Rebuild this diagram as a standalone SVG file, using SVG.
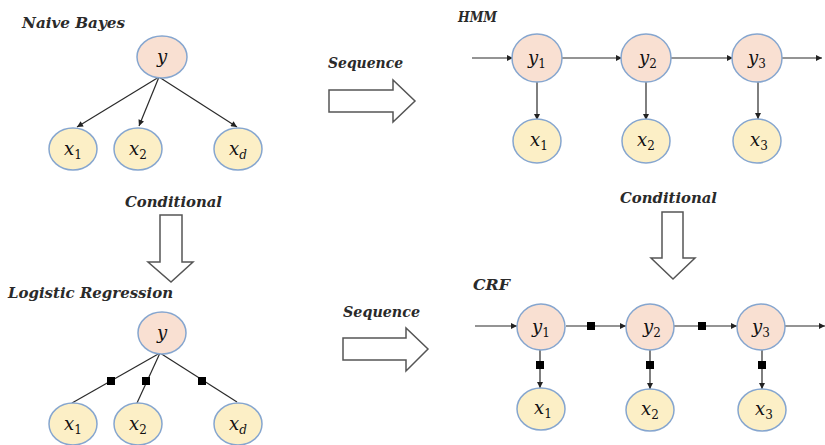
<svg xmlns="http://www.w3.org/2000/svg" width="825" height="445" viewBox="0 0 825 445">
  <style>
    .title { font-family: "DejaVu Serif", "Liberation Serif", serif; font-style: italic; font-weight: bold; font-size: 14.5px; fill: #2a2a2a; }
    .ynode { fill: #f9e0d2; stroke: #86a6cf; stroke-width: 1.5; }
    .xnode { fill: #fcefc6; stroke: #86a6cf; stroke-width: 1.5; }
    .var { font-family: "DejaVu Serif", "Liberation Serif", serif; font-style: italic; font-size: 18px; fill: #111; text-anchor: middle; }
    .sub { font-style: normal; font-size: 12px; }
    .subi { font-style: italic; font-size: 12px; }
    .edge { stroke: #2a2a2a; stroke-width: 1.2; fill: none; }
    .arr { marker-end: url(#head); }
    .factor { fill: #000; }
    .block { fill: #fff; stroke: #555; stroke-width: 1.5; stroke-linejoin: miter; }
  </style>
  <defs>
    <marker id="head" viewBox="0 0 10 10" refX="10" refY="5" markerWidth="7" markerHeight="6" markerUnits="userSpaceOnUse" orient="auto">
      <path d="M0,0 L10,5 L0,10 z" fill="#222"/>
    </marker>
  </defs>

  <!-- section titles -->
  <text class="title" x="22" y="28" textLength="103" lengthAdjust="spacingAndGlyphs">Naive Bayes</text>
  <text class="title" x="328" y="68" textLength="75" lengthAdjust="spacingAndGlyphs">Sequence</text>
  <text class="title" x="458" y="22" textLength="39" lengthAdjust="spacingAndGlyphs">HMM</text>
  <text class="title" x="125" y="207" textLength="97" lengthAdjust="spacingAndGlyphs">Conditional</text>
  <text class="title" x="8" y="298" textLength="165" lengthAdjust="spacingAndGlyphs">Logistic Regression</text>
  <text class="title" x="343" y="317" textLength="77" lengthAdjust="spacingAndGlyphs">Sequence</text>
  <text class="title" x="620" y="203" textLength="97" lengthAdjust="spacingAndGlyphs">Conditional</text>
  <text class="title" x="473" y="290" textLength="37" lengthAdjust="spacingAndGlyphs">CRF</text>

  <!-- block arrows between models -->
  <g id="block-arrows">
    <polygon class="block" points="329,90 393,90 393,80 415,101 393,122 393,112 329,112"/>
    <polygon class="block" points="343,338 406,338 406,328 428,349 406,371 406,360 343,360"/>
    <polygon class="block" points="160,215 182,215 182,262 193,262 171,282 148,262 160,262"/>
    <polygon class="block" points="662,212 683,212 683,258 695,258 673,279 651,258 662,258"/>
  </g>

  <!-- connectors -->
  <g id="connectors">
    <!-- Naive Bayes -->
    <line class="edge arr" x1="159" y1="77" x2="77" y2="127"/>
    <line class="edge arr" x1="159" y1="77" x2="139" y2="126"/>
    <line class="edge arr" x1="159" y1="77" x2="237" y2="127"/>
    <!-- HMM -->
    <line class="edge arr" x1="472" y1="58" x2="513" y2="58"/>
    <line class="edge arr" x1="562" y1="58" x2="622" y2="58"/>
    <line class="edge arr" x1="670" y1="58" x2="733" y2="58"/>
    <line class="edge arr" x1="782" y1="58" x2="822" y2="58"/>
    <line class="edge arr" x1="537" y1="82" x2="537" y2="120"/>
    <line class="edge arr" x1="646" y1="82" x2="646" y2="120"/>
    <line class="edge arr" x1="758" y1="82" x2="758" y2="119"/>
    <!-- Logistic Regression -->
    <line class="edge" x1="160" y1="353" x2="72" y2="403"/>
    <line class="edge" x1="160" y1="353" x2="137" y2="403"/>
    <line class="edge" x1="160" y1="353" x2="237" y2="402"/>
    <rect class="factor" x="107" y="377" width="8" height="8"/>
    <rect class="factor" x="142" y="377" width="8" height="8"/>
    <rect class="factor" x="198" y="377" width="8" height="8"/>
    <!-- CRF -->
    <line class="edge arr" x1="475" y1="326" x2="517" y2="326"/>
    <line class="edge arr" x1="566" y1="326" x2="626" y2="326"/>
    <line class="edge arr" x1="674" y1="326" x2="737" y2="326"/>
    <line class="edge arr" x1="785" y1="326" x2="825" y2="326"/>
    <line class="edge arr" x1="540" y1="350" x2="540" y2="388"/>
    <line class="edge arr" x1="650" y1="350" x2="650" y2="389"/>
    <line class="edge arr" x1="762" y1="350" x2="762" y2="389"/>
    <rect class="factor" x="587" y="322" width="8" height="8"/>
    <rect class="factor" x="698" y="322" width="8" height="8"/>
    <rect class="factor" x="536" y="361" width="8" height="8"/>
    <rect class="factor" x="646" y="361" width="8" height="8"/>
    <rect class="factor" x="758" y="361" width="8" height="8"/>
  </g>

  <!-- Naive Bayes nodes -->
  <g id="nb-y"><ellipse class="ynode" cx="162" cy="57" rx="25" ry="21"/><text class="var" x="162" y="63">y</text></g>
  <g id="nb-x1"><ellipse class="xnode" cx="73" cy="149" rx="24" ry="21"/><text class="var" x="73" y="155">x<tspan class="sub" dy="4">1</tspan></text></g>
  <g id="nb-x2"><ellipse class="xnode" cx="138" cy="149" rx="24" ry="21"/><text class="var" x="138" y="155">x<tspan class="sub" dy="4">2</tspan></text></g>
  <g id="nb-xd"><ellipse class="xnode" cx="238" cy="149" rx="24" ry="21"/><text class="var" x="238" y="155">x<tspan class="subi" dy="4">d</tspan></text></g>

  <!-- HMM nodes -->
  <g id="hmm-y1"><ellipse class="ynode" cx="537" cy="58" rx="25" ry="24"/><text class="var" x="537" y="64">y<tspan class="sub" dy="4">1</tspan></text></g>
  <g id="hmm-y2"><ellipse class="ynode" cx="646" cy="58" rx="25" ry="24"/><text class="var" x="648" y="64">y<tspan class="sub" dy="4">2</tspan></text></g>
  <g id="hmm-y3"><ellipse class="ynode" cx="757" cy="58" rx="25" ry="24"/><text class="var" x="757" y="64">y<tspan class="sub" dy="4">3</tspan></text></g>
  <g id="hmm-x1"><ellipse class="xnode" cx="537" cy="141" rx="24" ry="22"/><text class="var" x="539" y="146">x<tspan class="sub" dy="4">1</tspan></text></g>
  <g id="hmm-x2"><ellipse class="xnode" cx="646" cy="141" rx="24" ry="22"/><text class="var" x="646" y="146">x<tspan class="sub" dy="4">2</tspan></text></g>
  <g id="hmm-x3"><ellipse class="xnode" cx="757" cy="141" rx="24" ry="22"/><text class="var" x="759" y="146">x<tspan class="sub" dy="4">3</tspan></text></g>

  <!-- Logistic Regression nodes -->
  <g id="lr-y"><ellipse class="ynode" cx="162" cy="333" rx="24" ry="21"/><text class="var" x="162" y="339">y</text></g>
  <g id="lr-x1"><ellipse class="xnode" cx="73" cy="424" rx="24" ry="21"/><text class="var" x="73" y="430">x<tspan class="sub" dy="4">1</tspan></text></g>
  <g id="lr-x2"><ellipse class="xnode" cx="138" cy="424" rx="24" ry="21"/><text class="var" x="138" y="430">x<tspan class="sub" dy="4">2</tspan></text></g>
  <g id="lr-xd"><ellipse class="xnode" cx="238" cy="424" rx="24" ry="21"/><text class="var" x="238" y="430">x<tspan class="subi" dy="4">d</tspan></text></g>

  <!-- CRF nodes -->
  <g id="crf-y1"><ellipse class="ynode" cx="541" cy="327" rx="24" ry="23"/><text class="var" x="541" y="333">y<tspan class="sub" dy="4">1</tspan></text></g>
  <g id="crf-y2"><ellipse class="ynode" cx="650" cy="327" rx="24" ry="23"/><text class="var" x="652" y="333">y<tspan class="sub" dy="4">2</tspan></text></g>
  <g id="crf-y3"><ellipse class="ynode" cx="761" cy="327" rx="24" ry="23"/><text class="var" x="761" y="333">y<tspan class="sub" dy="4">3</tspan></text></g>
  <g id="crf-x1"><ellipse class="xnode" cx="541" cy="409" rx="24" ry="21"/><text class="var" x="543" y="414">x<tspan class="sub" dy="4">1</tspan></text></g>
  <g id="crf-x2"><ellipse class="xnode" cx="650" cy="410" rx="24" ry="21"/><text class="var" x="650" y="415">x<tspan class="sub" dy="4">2</tspan></text></g>
  <g id="crf-x3"><ellipse class="xnode" cx="762" cy="410" rx="24" ry="21"/><text class="var" x="764" y="415">x<tspan class="sub" dy="4">3</tspan></text></g>
</svg>
